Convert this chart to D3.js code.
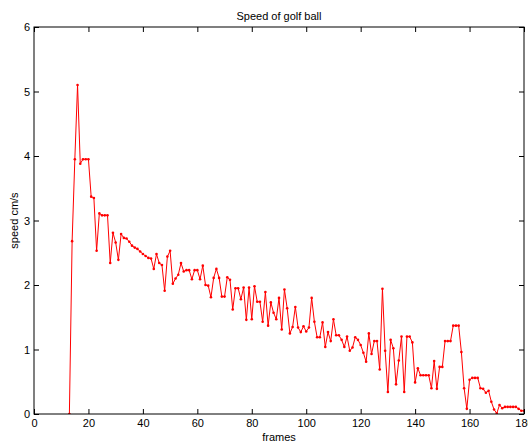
<!DOCTYPE html>
<html>
<head>
<meta charset="utf-8">
<script src="https://cdn.jsdelivr.net/npm/d3@7/dist/d3.min.js"></script>
<style>
  body { margin: 0; background: #fff; }
  svg { display: block; font-family: "Liberation Sans", Arial, sans-serif; }
</style>
</head>
<body>
<div id="chart"></div>
<script>
// Speed of golf ball, one reading per frame starting at frame 13
const firstFrame = 13;
const speeds = [
  0, 2.68, 3.95, 5.10, 3.88, 3.95, 3.95, 3.95, 3.37, 3.35,          // 13-22
  2.53, 3.11, 3.08, 3.08, 3.08, 2.34, 2.81, 2.66, 2.39, 2.79,       // 23-32
  2.73, 2.72, 2.67, 2.61, 2.58, 2.56, 2.52, 2.48, 2.45, 2.42,       // 33-42
  2.41, 2.25, 2.48, 2.34, 2.31, 1.91, 2.44, 2.53, 2.02, 2.10,       // 43-52
  2.16, 2.34, 2.21, 2.23, 2.23, 2.09, 2.23, 2.23, 2.09, 2.30,       // 53-62
  2.00, 1.99, 1.81, 2.11, 2.25, 2.11, 1.82, 1.82, 2.12, 2.08,       // 63-72
  1.62, 1.95, 1.95, 1.78, 1.96, 1.46, 1.96, 1.47, 1.98, 1.74,       // 73-82
  1.74, 1.43, 1.89, 1.37, 1.73, 1.57, 1.47, 1.80, 1.31, 1.93,       // 83-92
  1.64, 1.25, 1.35, 1.66, 1.34, 1.27, 1.36, 1.28, 1.34, 1.80,       // 93-102
  1.43, 1.19, 1.19, 1.42, 1.04, 1.27, 1.13, 1.47, 1.22, 1.22,       // 103-112
  1.15, 1.04, 1.20, 0.98, 1.03, 1.19, 1.15, 1.07, 0.95, 0.81,       // 113-122
  1.25, 0.93, 1.13, 1.13, 0.69, 1.94, 0.98, 0.34, 1.15, 1.02,       // 123-132
  0.46, 0.83, 1.20, 0.34, 1.20, 1.20, 1.11, 0.49, 0.71, 0.60,       // 133-142
  0.60, 0.60, 0.60, 0.40, 0.82, 0.39, 0.73, 0.73, 1.13, 1.13,       // 143-152
  1.13, 1.37, 1.37, 1.37, 0.96, 0.40, 0.08, 0.53, 0.56, 0.56,       // 153-162
  0.56, 0.40, 0.39, 0.33, 0.36, 0.19, 0.07, 0.01, 0.14, 0.09,       // 163-172
  0.11, 0.11, 0.11, 0.11, 0.11, 0.08, 0.05, 0.05                    // 173-180
];
const xTicks = [0, 20, 40, 60, 80, 100, 120, 140, 160, 180];
const yTicks = [0, 1, 2, 3, 4, 5, 6];

const width = 528, height = 444;
const margin = { top: 27, right: 4, bottom: 30, left: 34 };
const innerW = width - margin.left - margin.right;
const innerH = height - margin.top - margin.bottom;

const points = speeds.map((v, i) => ({ frame: firstFrame + i, speed: v }));

const x = d3.scaleLinear().domain([0, 180]).range([0, innerW]);
const y = d3.scaleLinear().domain([0, 6]).range([innerH, 0]);

const svg = d3.select('#chart').append('svg')
  .attr('width', width)
  .attr('height', height);

const g = svg.append('g')
  .attr('transform', `translate(${margin.left},${margin.top})`);

svg.append('defs').append('clipPath')
  .attr('id', 'plot-clip')
  .append('rect')
  .attr('width', innerW)
  .attr('height', innerH);

// data line + dot markers
const plot = g.append('g').attr('clip-path', 'url(#plot-clip)');

plot.append('path')
  .datum(points)
  .attr('fill', 'none')
  .attr('stroke', '#ff0000')
  .attr('stroke-width', 1)
  .attr('d', d3.line().x(d => x(d.frame)).y(d => y(d.speed)));

plot.append('g')
  .selectAll('circle')
  .data(points)
  .enter()
  .append('circle')
  .attr('cx', d => x(d.frame))
  .attr('cy', d => y(d.speed))
  .attr('r', 1.3)
  .attr('fill', '#ff0000');

// axes, Matlab style: ticks inside on all four sides
const tickLen = 5;
const fmt = d3.format('d');

const styleAxis = sel => {
  sel.select('.domain').remove();
  sel.selectAll('.tick line').attr('stroke', '#000');
  sel.selectAll('.tick text')
    .attr('fill', '#000')
    .attr('font-size', '11px');
};

g.append('g')
  .attr('transform', `translate(0,${innerH})`)
  .call(d3.axisBottom(x).tickValues(xTicks).tickFormat(fmt).tickSizeInner(-tickLen).tickPadding(5))
  .call(styleAxis);

g.append('g')
  .call(d3.axisTop(x).tickValues(xTicks).tickFormat('').tickSizeInner(-tickLen))
  .call(styleAxis);

g.append('g')
  .call(d3.axisLeft(y).tickValues(yTicks).tickFormat(fmt).tickSizeInner(-tickLen).tickPadding(4))
  .call(styleAxis);

g.append('g')
  .attr('transform', `translate(${innerW},0)`)
  .call(d3.axisRight(y).tickValues(yTicks).tickFormat('').tickSizeInner(-tickLen))
  .call(styleAxis);

// box
g.append('rect')
  .attr('width', innerW)
  .attr('height', innerH)
  .attr('fill', 'none')
  .attr('stroke', '#000')
  .attr('stroke-width', 1);

// labels
svg.append('text')
  .attr('x', margin.left + innerW / 2)
  .attr('y', 20)
  .attr('text-anchor', 'middle')
  .attr('font-size', '11px')
  .text('Speed of golf ball');

svg.append('text')
  .attr('x', margin.left + innerW / 2)
  .attr('y', 441)
  .attr('text-anchor', 'middle')
  .attr('font-size', '11px')
  .text('frames');

svg.append('text')
  .attr('transform', `translate(18,${margin.top + innerH / 2}) rotate(-90)`)
  .attr('text-anchor', 'middle')
  .attr('font-size', '11px')
  .text('speed cm/s');
</script>
</body>
</html>
